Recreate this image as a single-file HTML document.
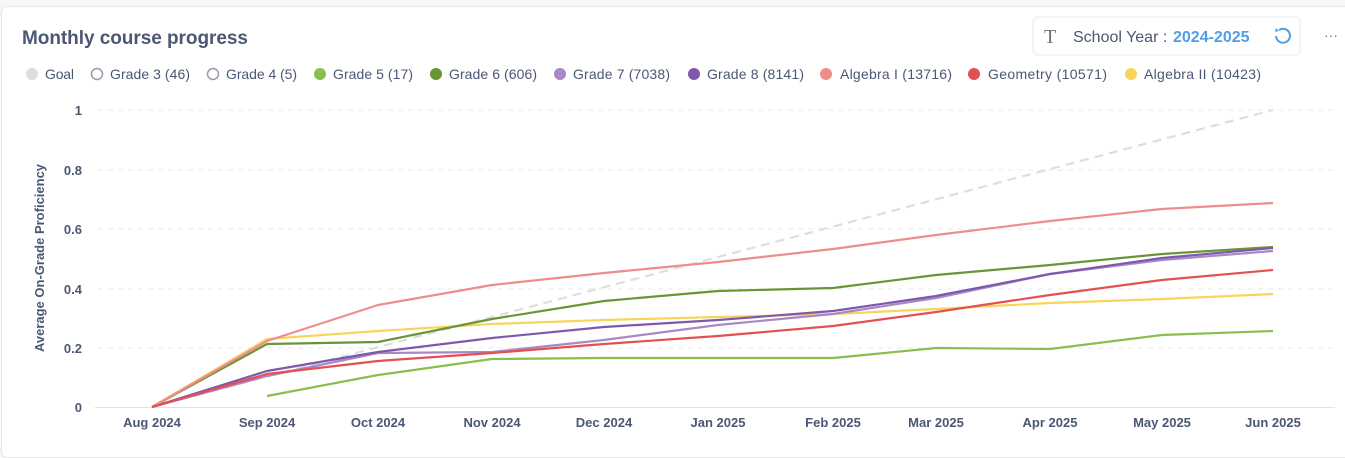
<!DOCTYPE html>
<html><head><meta charset="utf-8"><style>
body{margin:0;width:1345px;height:449px;background:#f6f7f9;font-family:"Liberation Sans",sans-serif;overflow:hidden}
.card{position:absolute;left:1px;top:6px;width:1350px;height:450px;background:#fff;border:1px solid #e6e8ec;border-radius:6px}
</style></head><body>
<div class="card"></div>
<svg width="1345" height="449" style="position:absolute;left:0;top:0" font-family="Liberation Sans, sans-serif">
<text x="22" y="44" font-size="19" font-weight="bold" fill="#4c5773" textLength="226">Monthly course progress</text>
<rect x="1033" y="17" width="267" height="38" rx="5" fill="#fff" stroke="#e6e8ec"/>
<text x="1044" y="43" font-size="20" fill="#6b7280" font-family="Liberation Serif, serif">T</text>
<text x="1073" y="42" font-size="16" fill="#4c5773">School Year :</text>
<text x="1173" y="42" font-size="16" font-weight="bold" fill="#509ee3">2024-2025</text>
<path d="M1279 30 a7 7 0 1 1 -3 6" fill="none" stroke="#509ee3" stroke-width="2"/>
<path d="M1276 28 l3 3 l-4 1 z" fill="#509ee3"/>
<text x="1324" y="40" font-size="14" fill="#6b7280">···</text>
<g font-size="14" fill="#4c5773">
<circle cx="32" cy="74" r="6" fill="#dcdfe0"/><text x="45" y="79" textLength="29">Goal</text>
<circle cx="97" cy="74" r="5.5" fill="none" stroke="#949aab" stroke-width="1.5"/><text x="110" y="79" textLength="80">Grade 3 (46)</text>
<circle cx="213" cy="74" r="5.5" fill="none" stroke="#949aab" stroke-width="1.5"/><text x="226" y="79" textLength="71">Grade 4 (5)</text>
<circle cx="320" cy="74" r="6" fill="#88bf4d"/><text x="333" y="79" textLength="80">Grade 5 (17)</text>
<circle cx="436" cy="74" r="6" fill="#689636"/><text x="449" y="79" textLength="88">Grade 6 (606)</text>
<circle cx="560" cy="74" r="6" fill="#a989c5"/><text x="573" y="79" textLength="97">Grade 7 (7038)</text>
<circle cx="694" cy="74" r="6" fill="#7f58ad"/><text x="707" y="79" textLength="97">Grade 8 (8141)</text>
<circle cx="826" cy="74" r="6" fill="#ef8c8c"/><text x="840" y="79" textLength="112">Algebra I (13716)</text>
<circle cx="974" cy="74" r="6" fill="#e35050"/><text x="988" y="79" textLength="119">Geometry (10571)</text>
<circle cx="1131" cy="74" r="6" fill="#f9d45c"/><text x="1144" y="79" textLength="117">Algebra II (10423)</text>
</g>
<g stroke="#e6e8ec" stroke-dasharray="5,5">
<line x1="98" y1="110" x2="1335" y2="110"/><line x1="98" y1="170" x2="1335" y2="170"/><line x1="98" y1="229" x2="1335" y2="229"/><line x1="98" y1="289" x2="1335" y2="289"/><line x1="98" y1="348" x2="1335" y2="348"/>
</g>
<line x1="95" y1="407.5" x2="1335" y2="407.5" stroke="#dfe1e5"/>
<g font-size="13" font-weight="bold" fill="#4c5773" text-anchor="end">
<text x="82" y="115">1</text><text x="82" y="175">0.8</text><text x="82" y="234">0.6</text><text x="82" y="294">0.4</text><text x="82" y="353">0.2</text><text x="82" y="412">0</text>
</g>
<g font-size="13" font-weight="bold" fill="#4c5773" text-anchor="middle">
<text x="152" y="427">Aug 2024</text><text x="267" y="427">Sep 2024</text><text x="378" y="427">Oct 2024</text><text x="492" y="427">Nov 2024</text><text x="604" y="427">Dec 2024</text><text x="718" y="427">Jan 2025</text><text x="833" y="427">Feb 2025</text><text x="936" y="427">Mar 2025</text><text x="1050" y="427">Apr 2025</text><text x="1162" y="427">May 2025</text><text x="1273" y="427">Jun 2025</text>
</g>
<text transform="translate(44,258) rotate(-90)" font-size="13" font-weight="bold" fill="#4c5773" text-anchor="middle">Average On-Grade Proficiency</text>
<g fill="none" stroke-width="2.2" stroke-linejoin="round">
<polyline stroke="#dcdfe0" stroke-dasharray="9,6" points="152,407 1273,110"/>
<polyline stroke="#88bf4d" points="267,396 378,375 492,359 604,358 718,358 833,358 936,348 1050,349 1162,335 1273,331"/>
<polyline stroke="#f9d45c" points="152,407 267,339 378,331 492,324 604,320 718,317 833,314 936,309 1050,303 1162,299 1273,294"/>
<polyline stroke="#689636" points="152,407 267,344 378,342 492,319 604,301 718,291 833,288 936,275 1050,265 1162,254 1273,247"/>
<polyline stroke="#a989c5" points="152,407 267,376 378,353 492,352 604,340 718,325 833,314 936,298 1050,274 1162,260 1273,251"/>
<polyline stroke="#7f58ad" points="152,407 267,371 378,352 492,338 604,327 718,320 833,311 936,296 1050,274 1162,258 1273,248"/>
<polyline stroke="#ef8c8c" points="152,407 267,341 378,305 492,285 604,273 718,262 833,249 936,235 1050,221 1162,209 1273,203"/>
<polyline stroke="#e35050" points="152,407 267,374 378,361 492,353 604,344 718,336 833,326 936,312 1050,295 1162,280 1273,270"/>
</g>
</svg>
</body></html>
